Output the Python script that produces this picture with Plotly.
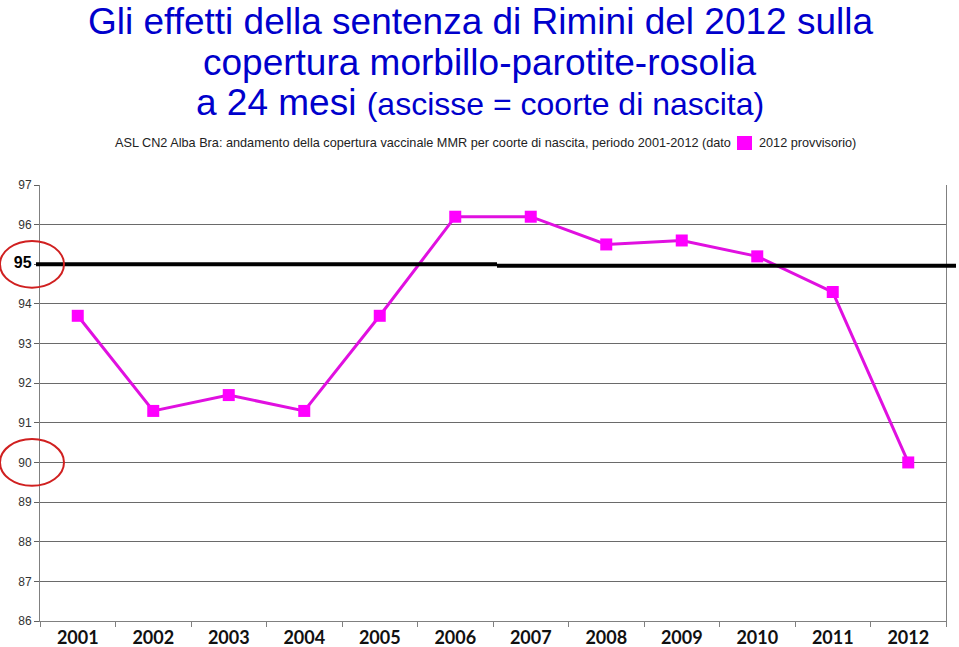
import plotly.graph_objects as go

years = ["2001", "2002", "2003", "2004", "2005", "2006", "2007", "2008", "2009", "2010", "2011", "2012"]
coverage = [93.7, 91.3, 91.7, 91.3, 93.7, 96.2, 96.2, 95.5, 95.6, 95.2, 94.3, 90.0]
y_ticks = [86, 87, 88, 89, 90, 91, 92, 93, 94, 95, 96, 97]
target = 95

W, H = 959, 647
L, R, T, B = 40, 13, 185, 26
PW, PH = W - L - R, H - T - B

def px(x):
    return (x - L) / PW

def py(y):
    return (H - B - y) / PH

tick_text = ["<span style='font-size:16px;color:black'><b>95</b></span>" if v == target else str(v) for v in y_ticks]

fig = go.Figure()
fig.add_trace(go.Scatter(
    x=years, y=coverage, mode="lines+markers",
    line=dict(color="#E010E0", width=3),
    marker=dict(symbol="square", size=12, color="#FF00FF"),
    showlegend=False, cliponaxis=False,
))

fig.update_layout(
    width=W, height=H,
    margin=dict(l=L, r=R, t=T, b=B, autoexpand=False),
    paper_bgcolor="white", plot_bgcolor="white",
    font=dict(family="Liberation Sans, Arial", color="#333"),
    xaxis=dict(
        type="category", range=[-0.5, 11.5], automargin=False,
        showline=True, linecolor="#808080", linewidth=1,
        ticks="outside", tickson="boundaries", ticklen=5, tickcolor="#808080",
        showgrid=False,
        tickfont=dict(family="Lato, Open Sans", size=18, color="#111", weight="bold"),
    ),
    yaxis=dict(
        range=[86, 97], tickvals=y_ticks, ticktext=tick_text, automargin=False,
        showline=True, mirror=True, linecolor="#808080", linewidth=1,
        ticks="outside", ticklen=5, tickcolor="#606060",
        showgrid=True, gridcolor="#6a6a6a", gridwidth=1,
        tickfont=dict(family="Liberation Sans, Arial", size=12, color="#333"),
        zeroline=False,
    ),
)

# 95% target line (two slightly offset segments as in the reference)
fig.add_shape(type="line", xref="paper", yref="y", x0=px(36), x1=px(497), y0=target, y1=target,
              line=dict(color="black", width=4))
fig.add_shape(type="line", xref="paper", yref="y", x0=px(497), x1=px(956), y0=target - 0.035, y1=target - 0.035,
              line=dict(color="black", width=4))

# red ellipses around 95 and 90 labels
for v in (95, 90):
    fig.add_shape(type="circle", xref="paper", yref="y", x0=px(0), x1=px(64), y0=v - 0.59, y1=v + 0.59,
                  line=dict(color="#D02020", width=2))

# titles
title_lines = [
    ("Gli effetti della sentenza di Rimini del 2012 sulla", 22),
    ("copertura morbillo-parotite-rosolia", 62),
    ("a 24 mesi <span style='font-size:32px'>(ascisse = coorte di nascita)</span>", 103),
]
for txt, yc in title_lines:
    fig.add_annotation(text=txt, xref="paper", yref="paper", x=px(480), y=py(yc),
                       showarrow=False, xanchor="center", yanchor="middle",
                       font=dict(family="Liberation Sans, Arial", size=37, color="#0000CC"))

fig.add_annotation(text="ASL CN2 Alba Bra: andamento della copertura vaccinale MMR per coorte di nascita, periodo 2001-2012 (dato",
                   xref="paper", yref="paper", x=px(733), y=py(143), showarrow=False,
                   xanchor="right", yanchor="middle",
                   font=dict(family="Liberation Sans, Arial", size=12.7, color="#222"))
fig.add_shape(type="rect", xref="paper", yref="paper", x0=px(737), x1=px(752), y0=py(150), y1=py(136),
              fillcolor="#FF00FF", line=dict(width=0))
fig.add_annotation(text="2012 provvisorio)",
                   xref="paper", yref="paper", x=px(757), y=py(143), showarrow=False,
                   xanchor="left", yanchor="middle",
                   font=dict(family="Liberation Sans, Arial", size=12.7, color="#222"))

fig.write_html("out.html")
